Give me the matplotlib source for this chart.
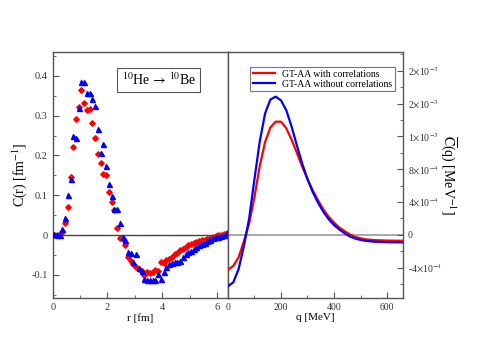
import numpy as np
import matplotlib
matplotlib.use("Agg")
import matplotlib.pyplot as plt
from matplotlib.ticker import FixedLocator, MultipleLocator

plt.rcParams['font.family'] = ['Liberation Serif', 'DejaVu Serif']
plt.rcParams['mathtext.fontset'] = 'stix'

# left panel: C(r) points
r_fm = [0.05, 0.15, 0.25, 0.35, 0.45, 0.55, 0.65, 0.75, 0.85, 0.95,
        1.05, 1.15, 1.25, 1.35, 1.45, 1.55, 1.65, 1.75, 1.85, 1.95,
        2.05, 2.15, 2.25, 2.35, 2.45, 2.55, 2.65, 2.75, 2.85, 2.95,
        3.05, 3.15, 3.25, 3.35, 3.45, 3.55, 3.65, 3.75, 3.85, 3.95,
        4.05, 4.15, 4.25, 4.35, 4.45, 4.55, 4.65, 4.75, 4.85, 4.95,
        5.05, 5.15, 5.25, 5.35, 5.45, 5.55, 5.65, 5.75, 5.85, 5.95,
        6.05, 6.15, 6.25, 6.35]
c_with = [0.0, -0.001, 0.002, 0.008, 0.031, 0.070, 0.146, 0.222, 0.291, 0.321,
          0.365, 0.332, 0.315, 0.318, 0.281, 0.245, 0.204, 0.181, 0.153, 0.150,
          0.107, 0.083, 0.063, 0.018, -0.008, -0.010, -0.026, -0.055, -0.065, -0.072,
          -0.079, -0.085, -0.090, -0.101, -0.092, -0.095, -0.093, -0.087, -0.089, -0.068,
          -0.070, -0.062, -0.060, -0.054, -0.048, -0.044, -0.038, -0.034, -0.030, -0.026,
          -0.023, -0.020, -0.017, -0.014, -0.013, -0.012, -0.010, -0.008, -0.005, -0.003,
          -0.001, 0.001, 0.002, 0.004]
c_without = [0.002, 0.0, 0.001, 0.016, 0.043, 0.101, 0.142, 0.249, 0.244, 0.319,
             0.385, 0.384, 0.357, 0.356, 0.343, 0.325, 0.267, 0.205, 0.229, 0.174,
             0.128, 0.097, 0.065, 0.065, 0.031, -0.005, -0.012, -0.042, -0.046, -0.067,
             -0.048, -0.082, -0.090, -0.110, -0.112, -0.112, -0.112, -0.112, -0.098, -0.110,
             -0.092, -0.080, -0.072, -0.070, -0.068, -0.067, -0.065, -0.055, -0.047, -0.043,
             -0.040, -0.036, -0.031, -0.026, -0.022, -0.019, -0.016, -0.013, -0.008, -0.006,
             -0.004, -0.002, 0.0, 0.004]

# right panel: C(q) curves (units of 1e-4 MeV^-1)
q_mev = [0, 20, 40, 60, 80, 100, 120, 140, 160, 180, 200, 220, 240, 260, 280,
         300, 320, 340, 360, 380, 400, 420, 440, 460, 480, 500, 520, 550, 600, 660]
cq_with = [-4.24, -3.80, -2.75, -0.8, 1.4, 4.6, 8.4, 11.3, 13.1, 13.8, 13.8, 13.0,
           11.6, 10.0, 8.3, 6.8, 5.4, 4.2, 3.1, 2.2, 1.5, 0.9, 0.45, 0.05, -0.25,
           -0.42, -0.55, -0.64, -0.70, -0.72]
cq_without = [-6.26, -5.80, -4.20, -1.4, 2.0, 6.8, 11.4, 14.8, 16.5, 16.85, 16.4, 15.2,
              13.2, 10.9, 8.7, 6.8, 5.2, 3.9, 2.8, 1.9, 1.2, 0.65, 0.2, -0.2, -0.45,
              -0.62, -0.73, -0.83, -0.90, -0.92]

ytick_vals = [-4e-4, 0, 4e-4, 8e-4, 1.2e-3, 1.6e-3, 2.0e-3]
ytick_labels = ['-4$\\times$10$^{-4}$', '0', '4$\\times$10$^{-4}$', '8$\\times$10$^{-4}$',
                '1$\\times$10$^{-3}$', '2$\\times$10$^{-3}$', '2$\\times$10$^{-3}$']

spine_c = '#555555'

fig = plt.figure(figsize=(4.85, 3.42), dpi=100)
ax1 = fig.add_axes([0.1087, 0.1287, 0.3613, 0.7193])
ax2 = fig.add_axes([0.4700, 0.1287, 0.3608, 0.7193])

# left
ax1.axhline(0, color='#444444', lw=1.0, zorder=1)
ax1.errorbar(r_fm, c_with, yerr=0.006, xerr=0.04, fmt='D', ms=2.8, color='red',
             ecolor='#ff9a9a', elinewidth=0.7, capsize=0, zorder=3)
ax1.errorbar(r_fm, c_without, yerr=0.006, xerr=0.04, fmt='^', ms=3.6, color='blue',
             ecolor='#9a9aff', elinewidth=0.7, capsize=0, zorder=4)
ax1.set_xlim(0, 6.4)
ax1.set_ylim(-0.158, 0.46)
ax1.xaxis.set_major_locator(FixedLocator([0, 2, 4, 6]))
ax1.xaxis.set_minor_locator(FixedLocator([1, 3, 5]))
ax1.yaxis.set_major_locator(FixedLocator([-0.1, 0, 0.1, 0.2, 0.3, 0.4]))
ax1.set_yticklabels(['-0.1', '0', '0.1', '0.2', '0.3', '0.4'])
ax1.yaxis.set_minor_locator(MultipleLocator(0.05))
ax1.tick_params(which='both', direction='in', labelsize=7.5, colors=spine_c,
                labelcolor='#333333', right=False, top=False)
ax1.tick_params(which='major', length=4)
ax1.tick_params(which='minor', length=2)
ax1.set_xlabel('r [fm]', fontsize=8, labelpad=1)
ax1.set_ylabel('C(r) [fm$^{-1}$]', fontsize=10, labelpad=2)
ax1.text(0.605, 0.886, '$^{10}$He$\\,\\rightarrow\\,^{10}$Be', transform=ax1.transAxes,
         ha='center', va='center', fontsize=10,
         bbox=dict(boxstyle='square,pad=0.3', fc='white', ec='#555555', lw=0.8))

# right
ax2.axhline(0, color='#999999', lw=1.2, zorder=1)
ax2.plot(q_mev, np.array(cq_with) * 1e-4, color='red', lw=1.6,
         label='GT-AA with correlations', zorder=3)
ax2.plot(q_mev, np.array(cq_without) * 1e-4, color='blue', lw=1.6,
         label='GT-AA without correlations', zorder=4)
ax2.set_xlim(0, 660)
ax2.set_ylim(-7.7e-4, 2.23e-3)
ax2.xaxis.set_major_locator(FixedLocator([0, 200, 400, 600]))
ax2.xaxis.set_minor_locator(FixedLocator([100, 300, 500]))
ax2.yaxis.set_major_locator(FixedLocator(ytick_vals))
ax2.set_yticklabels(ytick_labels)
ax2.yaxis.set_minor_locator(MultipleLocator(2e-4))
ax2.yaxis.tick_right()
ax2.yaxis.set_label_position('right')
ax2.tick_params(which='both', direction='in', labelsize=7, colors=spine_c,
                labelcolor='#333333', left=False, top=False)
ax2.tick_params(which='major', length=4)
ax2.tick_params(which='minor', length=2)
ax2.set_xlabel('q [MeV]', fontsize=8, labelpad=1)
ax2.set_ylabel('$\\overline{\\rm C}$(q) [MeV$^{-1}$]', fontsize=10, rotation=270,
               labelpad=12)
leg = ax2.legend(loc='upper left', bbox_to_anchor=(0.1, 0.96), fontsize=7,
                 fancybox=False, edgecolor='#555555', handlelength=2.2,
                 borderpad=0.3, labelspacing=0.1, handletextpad=0.8)
leg.get_frame().set_linewidth(0.8)

for ax in (ax1, ax2):
    for s in ax.spines.values():
        s.set_color(spine_c)
        s.set_linewidth(1.0)

fig.savefig('out.png', dpi=100)
